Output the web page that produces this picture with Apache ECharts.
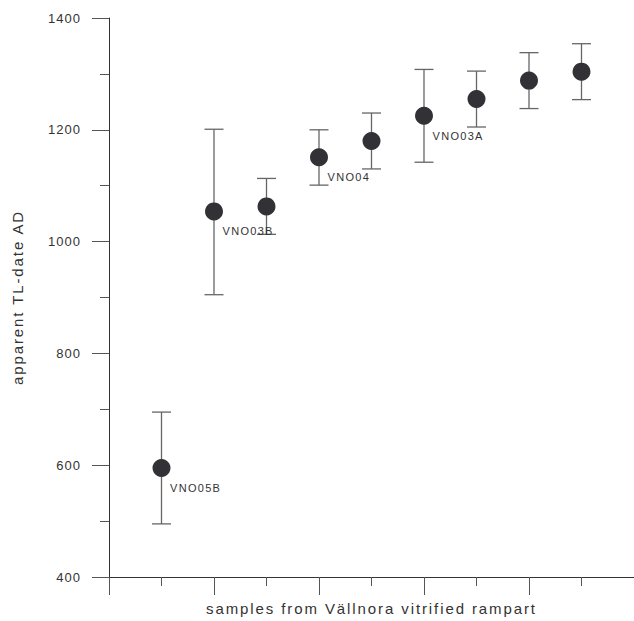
<!DOCTYPE html>
<html>
<head>
<meta charset="utf-8">
<script src="https://cdn.jsdelivr.net/npm/echarts@6/dist/echarts.min.js"></script>
<style>
  html, body { margin: 0; padding: 0; background: #fff; }
  #chart { width: 634px; height: 621px; }
  #chart text[style*="13px"] { letter-spacing: 1px; }
  #chart text[style*="11px"] { letter-spacing: 1.3px; }
  #chart text[style*="15px"] { letter-spacing: 1.9px; }
</style>
</head>
<body>
<div id="chart"></div>
<script>
// sample positions along the rampart
const samplePos = [1, 2, 3, 4, 5, 6, 7, 8, 9];
// apparent TL-date AD (point estimate)
const tlDate = [595, 1054, 1063, 1151, 1180, 1225, 1255, 1288, 1304];
// lower and upper error limits
const errLow = [495, 905, 1013, 1101, 1130, 1142, 1205, 1238, 1254];
const errHigh = [695, 1201, 1113, 1200, 1230, 1308, 1305, 1338, 1354];
// sample labels (empty = unlabeled)
const sampleLabels = ['VNO05B', 'VNO03B', '', 'VNO04', '', 'VNO03A', '', '', ''];

const chart = echarts.init(document.getElementById('chart'), null, { renderer: 'svg' });

const pointData = samplePos.map((x, i) => ({ value: [x, tlDate[i]], name: sampleLabels[i] }));
const errData = samplePos.map((x, i) => [x, errLow[i], errHigh[i]]);

const textColor = '#333';
const fontFam = '"Liberation Sans", Arial, sans-serif';

chart.setOption({
  animation: false,
  backgroundColor: '#fff',
  grid: { left: 109, right: -4, top: 18, bottom: 43, containLabel: false },
  xAxis: {
    type: 'value',
    min: 0, max: 10, interval: 2,
    name: 'samples from Vällnora vitrified rampart',
    nameLocation: 'middle',
    nameGap: 24,
    nameTextStyle: { fontSize: 15, color: textColor, fontFamily: fontFam },
    axisLine: { show: true, onZero: false, lineStyle: { color: '#333', width: 1 } },
    axisTick: { show: true, length: 18, lineStyle: { color: '#555', width: 1 } },
    minorTick: { show: true, splitNumber: 2, length: 9, lineStyle: { color: '#555', width: 1 } },
    axisLabel: { show: false },
    splitLine: { show: false },
    minorSplitLine: { show: false }
  },
  yAxis: {
    type: 'value',
    min: 400, max: 1400, interval: 200,
    name: 'apparent TL-date AD',
    nameLocation: 'middle',
    nameGap: 84,
    nameRotate: 90,
    nameTextStyle: { fontSize: 15, color: textColor, fontFamily: fontFam },
    axisLine: { show: true, onZero: false, lineStyle: { color: '#333', width: 1 } },
    axisTick: { show: true, length: 17, lineStyle: { color: '#555', width: 1 } },
    minorTick: { show: true, splitNumber: 2, length: 9, lineStyle: { color: '#555', width: 1 } },
    axisLabel: { show: true, margin: 28, fontSize: 13, color: textColor, fontFamily: fontFam,
                 formatter: v => String(v) },
    splitLine: { show: false },
    minorSplitLine: { show: false }
  },
  series: [
    {
      type: 'custom',
      z: 2,
      data: errData,
      renderItem: function (params, api) {
        const x = api.value(0);
        const lo = api.coord([x, api.value(1)]);
        const hi = api.coord([x, api.value(2)]);
        const hw = 9.5;
        const st = { stroke: '#666', lineWidth: 1.3 };
        return {
          type: 'group',
          children: [
            { type: 'line', shape: { x1: lo[0], y1: lo[1], x2: hi[0], y2: hi[1] }, style: st },
            { type: 'line', shape: { x1: hi[0] - hw, y1: hi[1], x2: hi[0] + hw, y2: hi[1] }, style: st },
            { type: 'line', shape: { x1: lo[0] - hw, y1: lo[1], x2: lo[0] + hw, y2: lo[1] }, style: st }
          ]
        };
      }
    },
    {
      type: 'scatter',
      z: 5,
      symbol: 'circle',
      symbolSize: 18,
      itemStyle: { color: '#313136', opacity: 1 },
      data: pointData,
      label: {
        show: true,
        position: [17.5, 29],
        align: 'left',
        verticalAlign: 'middle',
        fontSize: 11,
        color: textColor,
        fontFamily: fontFam,
        formatter: p => p.name
      },
      emphasis: { disabled: true }
    }
  ]
});
</script>
</body>
</html>
